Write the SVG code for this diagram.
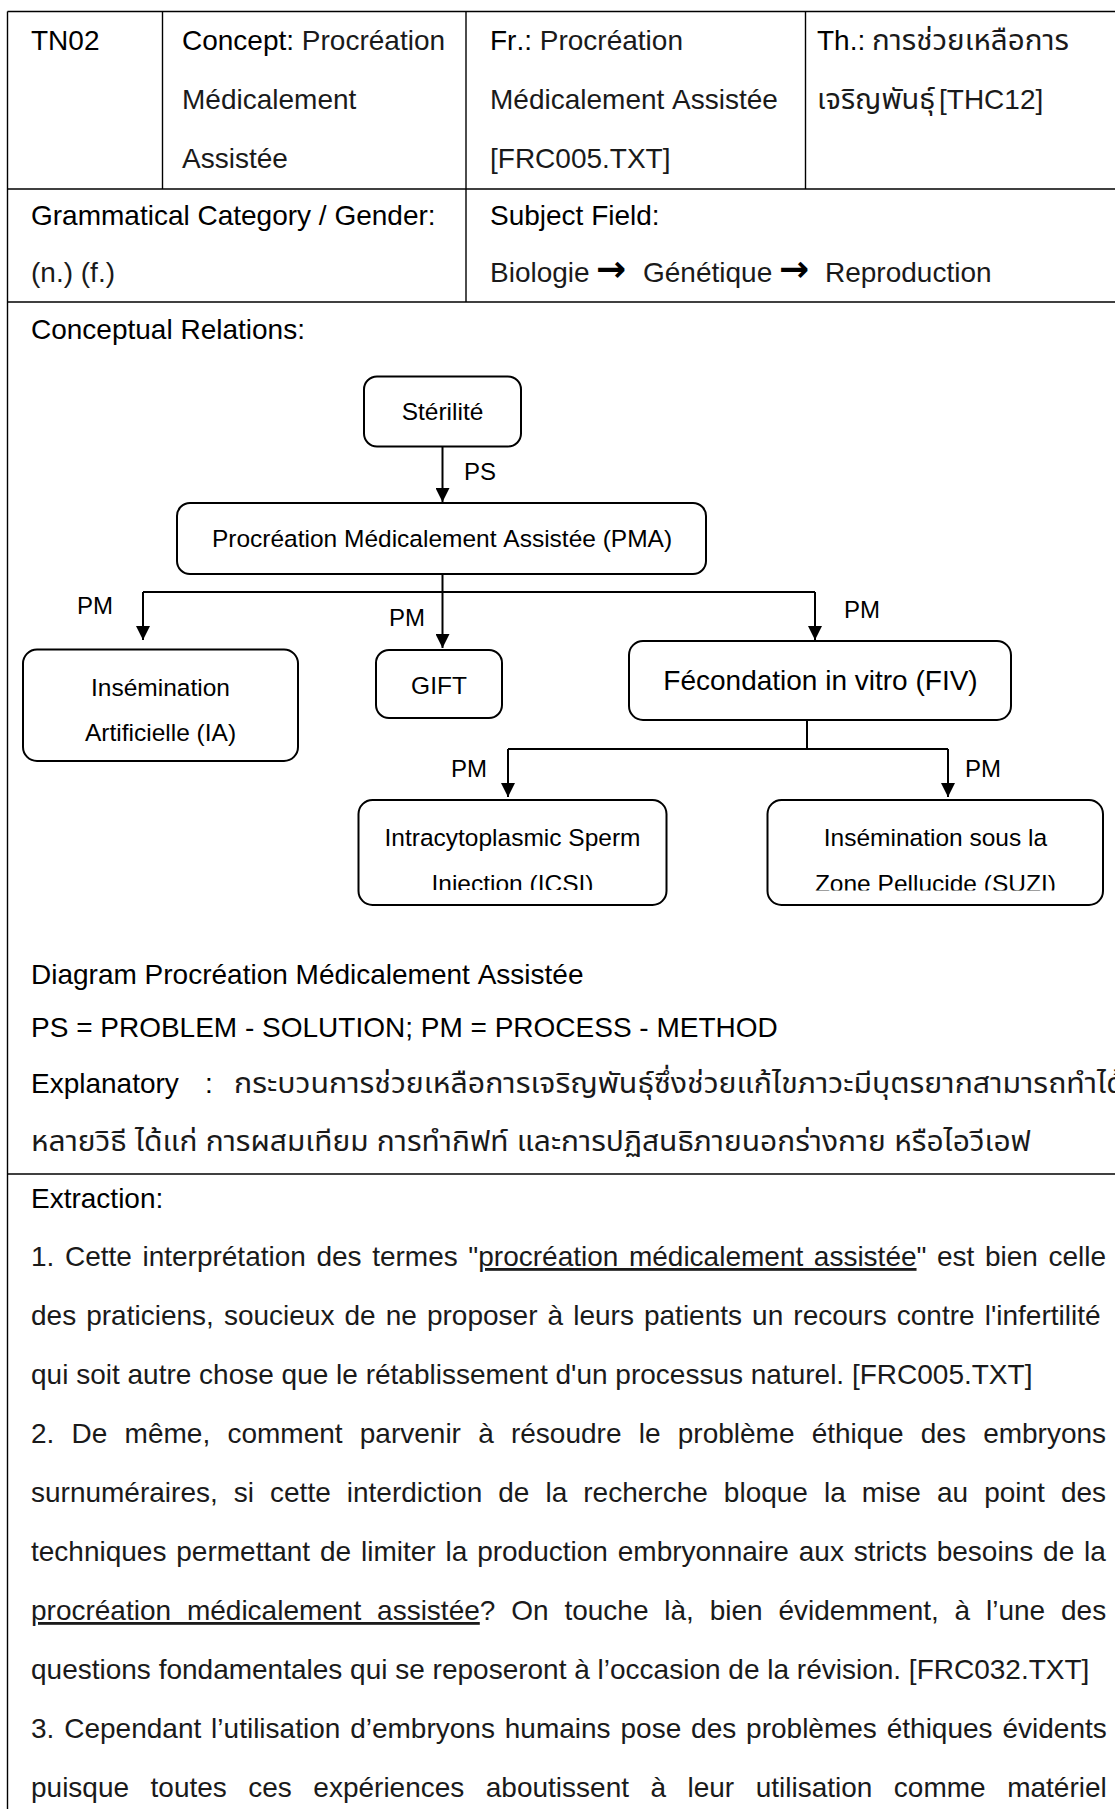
<svg xmlns="http://www.w3.org/2000/svg" width="1115" height="1809" viewBox="0 0 1115 1809">
  <style>
    text { font-family: "Liberation Sans", "Noto Sans Thai", "Noto Sans", "DejaVu Sans", sans-serif; font-size: 28px; fill: #000; font-kerning: none; }
    .body { fill: #1a1a1a; }
    .thai { fill: #1a1a1a; }
    .node { font-size: 24.5px; text-anchor: middle; }
    .big { font-size: 28px; }
    .lbl { font-size: 24px; }
    .arr { font-family: "DejaVu Sans", sans-serif; font-weight: bold; font-size: 36px; }
    .ul { text-decoration: underline; }
    .grid { stroke: #000; stroke-width: 1.4; fill: none; }
    .box { fill: #fff; stroke: #000; stroke-width: 2; }
    .edge { stroke: #000; stroke-width: 2; fill: none; }
  </style>
  <defs>
    <marker id="ah" viewBox="0 0 14 14" refX="14" refY="7" markerWidth="14" markerHeight="14" markerUnits="userSpaceOnUse" orient="auto">
      <path d="M0,0 L14,7 L0,14 z" fill="#000"/>
    </marker>
    <clipPath id="clip-icsi"><rect x="358" y="800" width="309" height="90"/></clipPath>
    <clipPath id="clip-suzi"><rect x="767" y="800" width="337" height="90.5"/></clipPath>
  </defs>

  <rect width="1115" height="1809" fill="#fff"/>

  <!-- table rules -->
  <g id="table" class="grid">
    <path d="M7.5,11.5 H1115"/>
    <path d="M7.5,11.5 V1809"/>
    <path d="M162.5,11.5 V189"/>
    <path d="M466,11.5 V302"/>
    <path d="M805.5,11.5 V189"/>
    <path d="M7.5,189 H1115"/>
    <path d="M7.5,302 H1115"/>
    <path d="M7.5,1174 H1115"/>
  </g>

  <!-- header rows -->
  <g id="header">
    <text x="31" y="50">TN02</text>
    <text x="182" y="50">Concept:<tspan class="body"> Procréation</tspan></text>
    <text x="182" y="109" class="body">Médicalement</text>
    <text x="182" y="168" class="body">Assistée</text>
    <text x="490" y="50">Fr.:<tspan class="body"> Procréation</tspan></text>
    <text x="490" y="109" class="body">Médicalement Assistée</text>
    <text x="490" y="168" class="body">[FRC005.TXT]</text>
    <text x="817" y="50">Th.:</text>
    <text x="872" y="50" class="thai" textLength="197" lengthAdjust="spacingAndGlyphs">การช่วยเหลือการ</text>
    <text x="817" y="109" class="thai" textLength="118" lengthAdjust="spacingAndGlyphs">เจริญพันธุ์</text>
    <text x="939" y="109" class="body">[THC12]</text>
    <text x="31" y="225">Grammatical Category / Gender:</text>
    <text x="31" y="282" class="body">(n.) (f.)</text>
    <text x="490" y="225">Subject Field:</text>
    <text x="490" y="282" class="body">Biologie</text>
    <text x="596" y="282" class="arr" dy="-1">→</text>
    <text x="643" y="282" class="body">Génétique</text>
    <text x="779" y="282" class="arr" dy="-1">→</text>
    <text x="825" y="282" class="body">Reproduction</text>
    <text x="31" y="339">Conceptual Relations:</text>
  </g>

  <!-- connectors -->
  <g id="connectors" class="edge">
    <path d="M442.5,446.7 V502" marker-end="url(#ah)"/>
    <path d="M442.5,574 V592"/>
    <path d="M143,592 H815"/>
    <path d="M143,592 V640" marker-end="url(#ah)"/>
    <path d="M442.5,592 V648" marker-end="url(#ah)"/>
    <path d="M815,592 V640" marker-end="url(#ah)"/>
    <path d="M807,720 V749"/>
    <path d="M508,749 H948"/>
    <path d="M508,749 V797" marker-end="url(#ah)"/>
    <path d="M948,749 V797" marker-end="url(#ah)"/>
  </g>

  <!-- relation labels -->
  <g id="labels" class="lbl">
    <text x="464" y="480" class="lbl">PS</text>
    <text x="77" y="614" class="lbl">PM</text>
    <text x="389" y="626" class="lbl">PM</text>
    <text x="844" y="618" class="lbl">PM</text>
    <text x="451" y="777" class="lbl">PM</text>
    <text x="965" y="777" class="lbl">PM</text>
  </g>

  <!-- nodes -->
  <g id="node-sterilite">
    <rect class="box" x="364" y="376.5" width="157" height="70" rx="13"/>
    <text class="node" x="442.5" y="420">Stérilité</text>
  </g>
  <g id="node-pma">
    <rect class="box" x="177" y="503" width="529" height="71" rx="13"/>
    <text class="node" x="442" y="547">Procréation Médicalement Assistée (PMA)</text>
  </g>
  <g id="node-ia">
    <rect class="box" x="23" y="649.5" width="275" height="111.5" rx="14"/>
    <text class="node" x="160.5" y="696">Insémination</text>
    <text class="node" x="160.5" y="741">Artificielle (IA)</text>
  </g>
  <g id="node-gift">
    <rect class="box" x="376" y="650" width="126" height="68" rx="13"/>
    <text class="node" x="439" y="694">GIFT</text>
  </g>
  <g id="node-fiv">
    <rect class="box" x="629" y="641" width="382" height="79" rx="14"/>
    <text class="node big" x="820.5" y="690">Fécondation in vitro (FIV)</text>
  </g>
  <g id="node-icsi">
    <rect class="box" x="358.5" y="800" width="308" height="105" rx="14"/>
    <text class="node" x="512.5" y="846">Intracytoplasmic Sperm</text>
    <text class="node" x="512.5" y="892" clip-path="url(#clip-icsi)">Injection (ICSI)</text>
  </g>
  <g id="node-suzi">
    <rect class="box" x="767.5" y="800" width="335.5" height="105" rx="14"/>
    <text class="node" x="935.4" y="846">Insémination sous la</text>
    <text class="node" x="935.4" y="892" clip-path="url(#clip-suzi)">Zone Pellucide (SUZI)</text>
  </g>

  <!-- caption and explanation -->
  <g id="caption">
    <text x="31" y="984">Diagram Procréation Médicalement Assistée</text>
    <text x="31" y="1037">PS = PROBLEM - SOLUTION; PM = PROCESS - METHOD</text>
    <text x="31" y="1093">Explanatory</text>
    <text x="205" y="1093">:</text>
    <text x="234" y="1093" class="thai" textLength="891" lengthAdjust="spacingAndGlyphs">กระบวนการช่วยเหลือการเจริญพันธุ์ซึ่งช่วยแก้ไขภาวะมีบุตรยากสามารถทำได้</text>
    <text x="31" y="1151" class="thai" textLength="1000" lengthAdjust="spacingAndGlyphs">หลายวิธี ได้แก่ การผสมเทียม การทำกิฟท์ และการปฏิสนธิภายนอกร่างกาย หรือไอวีเอฟ</text>
  </g>

  <!-- extraction passages -->
  <g id="extraction">
    <text x="31" y="1208">Extraction:</text>
    <text x="31" y="1266" class="body" word-spacing="2.8">1. Cette interprétation des termes "<tspan class="ul">procréation médicalement assistée</tspan>" est bien celle</text>
    <text x="31" y="1325" class="body" word-spacing="2.3">des praticiens, soucieux de ne proposer à leurs patients un recours contre l'infertilité</text>
    <text x="31" y="1384" class="body">qui soit autre chose que le rétablissement d'un processus naturel. [FRC005.TXT]</text>
    <text x="31" y="1443" class="body" word-spacing="9.45">2. De même, comment parvenir à résoudre le problème éthique des embryons</text>
    <text x="31" y="1502" class="body" word-spacing="8.27">surnuméraires, si cette interdiction de la recherche bloque la mise au point des</text>
    <text x="31" y="1561" class="body" word-spacing="2.07">techniques permettant de limiter la production embryonnaire aux stricts besoins de la</text>
    <text x="31" y="1620" class="body" word-spacing="8.06"><tspan class="ul">procréation médicalement assistée</tspan>? On touche là, bien évidemment, à l’une des</text>
    <text x="31" y="1679" class="body">questions fondamentales qui se reposeront à l’occasion de la révision. [FRC032.TXT]</text>
    <text x="31" y="1738" class="body" word-spacing="2.1">3. Cependant l’utilisation d’embryons humains pose des problèmes éthiques évidents</text>
    <text x="31" y="1797" class="body" word-spacing="13.69">puisque toutes ces expériences aboutissent à leur utilisation comme matériel</text>
  </g>
</svg>
